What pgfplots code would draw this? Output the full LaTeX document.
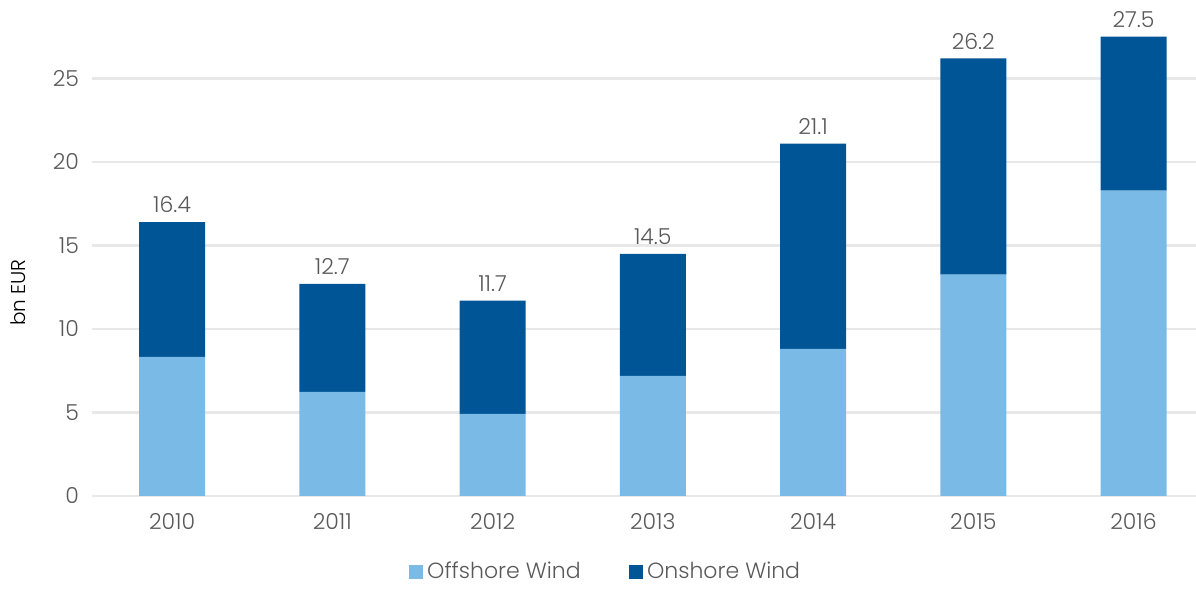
\documentclass[border=0pt]{standalone}
\usepackage{fontspec}
\setmainfont{Poppins Light}
\usepackage{pgfplots}
\pgfplotsset{compat=1.18}
\usepackage{pgfplotstable}

\definecolor{offsh}{HTML}{79BAE6}
\definecolor{onsh}{HTML}{005596}
\definecolor{txt}{HTML}{595959}
\definecolor{gridc}{HTML}{E8E8E8}

\pgfplotstableread{
x offshore onshore total
0 8.33 8.07 16.4
1 6.23 6.47 12.7
2 4.92 6.78 11.7
3 7.19 7.31 14.5
4 8.81 12.29 21.1
5 13.25 12.95 26.2
6 18.29 9.21 27.5
}\windinv

\begin{document}
\begin{tikzpicture}
\begin{axis}[
    scale only axis,
    width=552pt, height=248pt,
    ybar stacked,
    bar width=33pt,
    xmin=-0.5, xmax=6.39,
    ymin=0, ymax=29.7,
    xtick=data,
    xticklabels={2010,2011,2012,2013,2014,2015,2016},
    ytick={0,5,10,15,20,25},
    axis line style={draw=none},
    major tick style={draw=none},
    ymajorgrids,
    grid style={gridc, line width=1.3pt},
    tick label style={font=\fontsize{11}{13}\selectfont, text=txt},
    /pgf/number format/assume math mode=true,
    xticklabel style={yshift=-5pt},
    yticklabel style={xshift=-3pt},
    ylabel={bn EUR},
    ylabel style={font=\fontsize{11}{13}\selectfont, text=txt},
    every axis y label/.style={at={(axis description cs:-0.067,0.41)}, rotate=90, anchor=center},
    legend style={
        at={(axis description cs:0.466,-0.153)}, anchor=center,
        draw=none, fill=none,
        legend columns=-1,
        font=\fontsize{11}{13}\selectfont, text=txt,
        /tikz/every even column/.append style={column sep=22pt},
    },
    legend image code/.code={\fill[#1] (0pt,-3.6pt) rectangle (7.2pt,3.6pt);},
]
\addplot[fill=offsh, draw=none] table[x=x, y=offshore] {\windinv};
\addlegendentry{Offshore Wind}
% totals: stacked nodes sit mid-segment, so move them up by half the segment
\addplot[fill=onsh, draw=none,
    point meta=explicit symbolic,
    visualization depends on={\thisrow{onshore} \as \segh},
    nodes near coords,
    nodes near coords style={font=\fontsize{11}{13}\selectfont, text=txt,
        anchor=south, shift={(axis direction cs:0,\segh/2)}, yshift=1pt},
] table[x=x, y=onshore, meta=total] {\windinv};
\addlegendentry{Onshore Wind}
\end{axis}
% frame the page like the reference
\pgfresetboundingbox
\path[use as bounding box] (-46pt,-48pt) rectangle (552pt,248pt);
\end{tikzpicture}
\end{document}
